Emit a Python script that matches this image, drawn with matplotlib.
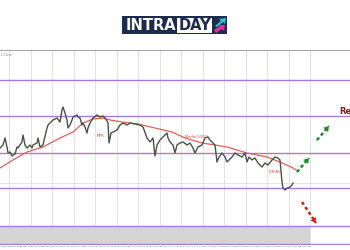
import matplotlib
matplotlib.use("Agg")
import matplotlib.pyplot as plt
from matplotlib.patches import Rectangle, Polygon

# ---- data (price in chart units) ----
bar_x = [0, 3, 5, 7, 8, 10, 12, 15, 17, 18, 22, 23, 25, 27, 30, 32, 33, 37, 38, 40,
         43, 46, 48, 50, 53, 57, 60, 62, 63, 65, 67, 68, 70, 72, 73, 77, 78, 80, 82, 83,
         85, 87, 88, 90, 93, 97, 100, 103, 105, 107, 108, 109, 111, 113, 117, 120, 123, 127, 130, 135,
         140, 143, 147, 150, 153, 155, 157, 160, 163, 167, 168, 170, 173, 175, 177, 180, 183, 187, 190, 193,
         195, 198, 202, 205, 208, 210, 213, 215, 217, 219, 222, 225, 227, 229, 232, 235, 238, 242, 245, 247,
         249, 252, 255, 258, 262, 265, 268, 272, 275, 278, 280, 282, 283, 285, 287, 288, 290, 292, 293]
close = [152, 155, 162, 153, 147, 148, 144, 146, 153, 152, 158, 165, 155, 152, 155, 152, 155, 157, 162, 153,
         155, 168, 175, 177, 180, 182, 178, 190, 193, 187, 180, 172, 175, 180, 183, 185, 183, 182, 175, 177,
         173, 167, 172, 177, 182, 185, 183, 184, 182, 179, 177, 157, 167, 168, 170, 175, 177, 175, 177, 176,
         175, 173, 162, 158, 162, 144, 155, 160, 163, 167, 162, 158, 155, 147, 155, 157, 158, 155, 157, 152,
         147, 153, 155, 162, 163, 160, 157, 155, 138, 143, 147, 143, 138, 140, 143, 147, 145, 143, 147, 138,
         143, 140, 142, 137, 133, 137, 135, 140, 143, 142, 140, 118, 112, 110, 112, 112, 113, 115, 117]

ma_x = [0, 13, 27, 43, 60, 73, 83, 93, 103, 110, 122, 138, 155, 172, 185, 202, 215, 227, 247, 267, 280, 293, 296]
ma_val = [132, 140, 148, 153, 162, 168, 177, 181, 182, 180, 178, 176, 172, 168, 162, 157, 155, 153, 147, 143, 138, 132, 130]

levels = [220, 184, 147, 112, 74, 56]
zone = (56, 74)
last_price = 117

# projected scenarios (start, end)
up_paths = [((297, 128), (309, 142)), ((317, 160), (329, 174))]
down_paths = [((302, 98), (316, 77))]

tick_labels = ["19 May 2020", "21 May 2020", "25 May 2020", "27 May 2020", "29 May 2020", "2 Jun 2020",
               "4 Jun 2020", "8 Jun 2020", "10 Jun 2020", "12 Jun 2020", "16 Jun 2020", "18 Jun 2020",
               "22 Jun 2020", "24 Jun 2020", "26 Jun 2020", "30 Jun 2020", "2 Jul 2020", "6 Jul 2020",
               "8 Jul 2020", "10 Jul 2020", "14 Jul 2020", "16 Jul 2020", "20 Jul 2020", "22 Jul 2020",
               "24 Jul 2020", "28 Jul 2020", "30 Jul 2020", "3 Aug 2020", "5 Aug 2020"]

fig = plt.figure(figsize=(3.5, 2.5), dpi=100)
fig.patch.set_facecolor("white")
ax = fig.add_axes([0, 5 / 250, 1, 195 / 250])
ax.set_xlim(0, 350)
ax.set_ylim(55, 250)

# grid verticals
for k in range(15):
    ax.axvline(9 + 21.5 * k, color="#d6d6d6", lw=0.5, zorder=1)

# zone
ax.add_patch(Rectangle((0, zone[0]), 310, zone[1] - zone[0], facecolor="#d4d4d4", edgecolor="none", zorder=0.5))

# levels
for lv in levels:
    ax.axhline(lv, color="#a77bd6", lw=1.0, zorder=2)
ax.axhline(last_price, color="#dcdcdc", lw=0.5, zorder=1)

# price & MA
ax.plot(bar_x, close, color="#465446", lw=1.0, zorder=4)
ax.plot(ma_x, ma_val, color="#e0605a", lw=0.9, zorder=3)

# annotations
ax.text(97, 163, "MPR", color="#d04040", fontsize=2.6, zorder=5)
ax.text(185, 162, "Media 50/50", color="#d04040", fontsize=2.6, zorder=5)
ax.text(269, 127, "DR AG", color="#d04040", fontsize=2.6, zorder=5)
ax.text(339, 188, "Resistencia", color="#8b1a1a", fontsize=6, fontweight="bold", va="center", zorder=5)


def dashed_arrow(p0, p1, color):
    ax.plot([p0[0], p1[0]], [p0[1], p1[1]], color=color, lw=1.8,
            linestyle=(0, (1.3, 1.1)), solid_capstyle="butt", zorder=6)
    hx = p0[0] + 0.75 * (p1[0] - p0[0])
    hy = p0[1] + 0.75 * (p1[1] - p0[1])
    ax.annotate("", xy=p1, xytext=(hx, hy),
                arrowprops=dict(arrowstyle="-|>,head_length=0.35,head_width=0.22", color=color,
                                lw=0.1, shrinkA=0, shrinkB=0), zorder=6)


for p0, p1 in up_paths:
    dashed_arrow(p0, p1, "#1f8a2a")
for p0, p1 in down_paths:
    dashed_arrow(p0, p1, "#d42020")

ax.text(1, 247, "1.2 Level", fontsize=1.8, color="#777777", va="top")

# axes styling
for s in ["left", "right", "bottom"]:
    ax.spines[s].set_visible(False)
ax.spines["top"].set_color("#a8a8a8")
ax.spines["top"].set_linewidth(0.8)
ax.set_yticks([])
ax.set_xticks([5 + 10.75 * k for k in range(len(tick_labels))])
ax.set_xticklabels(tick_labels, fontsize=1.4, color="#666666")
ax.tick_params(axis="x", length=0, pad=0.6)

# logo overlay
ov = fig.add_axes([0, 0, 1, 1], zorder=10)
ov.set_xlim(0, 350)
ov.set_ylim(250, 0)
ov.axis("off")
ov.patch.set_alpha(0)
ov.add_patch(Rectangle((122, 16), 105, 18, facecolor="#1d2b4c", edgecolor="none"))
ov.add_patch(Rectangle((177, 18), 35, 14.5, facecolor="white", edgecolor="none"))
ov.text(151, 25.5, "INTRA", color="white", fontsize=10.5, fontweight="bold", ha="center", va="center")
ov.text(194.5, 25.5, "DAY", color="#1d2b4c", fontsize=10.5, fontweight="bold", ha="center", va="center")
ov.add_patch(Polygon([(215, 26), (221, 21), (219, 19), (226, 18), (225, 24), (223, 22), (217, 27)],
                     closed=True, facecolor="#2ec5d9", edgecolor="none"))
ov.add_patch(Polygon([(214, 30), (220, 26), (218, 25), (225, 25), (224, 31), (222, 29), (216, 33)],
                     closed=True, facecolor="#e2319c", edgecolor="none"))

fig.savefig("out.png", dpi=100, facecolor="white")
